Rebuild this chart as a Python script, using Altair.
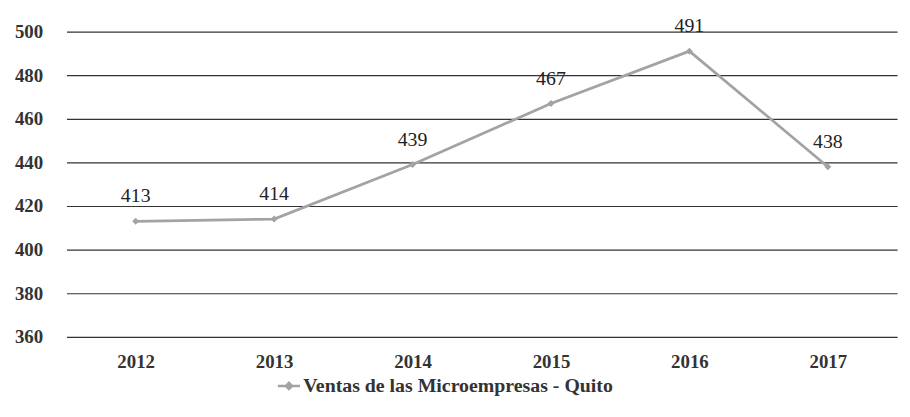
import altair as alt
import pandas as pd

years = ["2012", "2013", "2014", "2015", "2016", "2017"]
ventas = [413, 414, 439, 467, 491, 438]
serie = "Ventas de las Microempresas - Quito"

df = pd.DataFrame({"anio": years, "ventas": ventas, "serie": [serie] * len(years)})

GRAY = "#a3a3a3"
FONT = "Liberation Serif"

x = alt.X("anio:N", title=None, sort=years,
          scale=alt.Scale(paddingInner=0, paddingOuter=0.5),
          axis=alt.Axis(labelAngle=0, labelFont=FONT, labelFontWeight="bold",
                        labelFontSize=19, labelColor="#333333", labelPadding=16,
                        ticks=False, domain=False, grid=False))
y = alt.Y("ventas:Q", title=None,
          scale=alt.Scale(domain=[360, 500], nice=False, zero=False),
          axis=alt.Axis(values=[360, 380, 400, 420, 440, 460, 480, 500],
                        labelFont=FONT, labelFontWeight="bold", labelFontSize=19,
                        labelColor="#333333", labelPadding=24, ticks=False,
                        domain=False, grid=True, gridColor="#333333",
                        gridWidth=1.2))

color = alt.Color("serie:N", title=None,
                  scale=alt.Scale(range=[GRAY]),
                  legend=alt.Legend(orient="none", legendX=212, legendY=345,
                                    direction="horizontal",
                                    labelFont=FONT, labelFontWeight="bold",
                                    labelFontSize=20, labelColor="#333333",
                                    labelLimit=500,
                                    symbolType="M-1,0H1M0,-0.28L0.28,0L0,0.28L-0.28,0Z",
                                    symbolSize=500, symbolStrokeWidth=2.5,
                                    symbolStrokeColor=GRAY, symbolFillColor=GRAY,
                                    labelOffset=2, padding=0))

base = alt.Chart(df)
line = base.mark_line(strokeWidth=2.8).encode(x=x, y=y, color=color)
pts = base.mark_point(shape="diamond", filled=True, size=50, opacity=1).encode(
    x=x, y=y, color=alt.Color("serie:N", legend=None, scale=alt.Scale(range=[GRAY])))
txt = base.mark_text(dy=-19, baseline="alphabetic", font=FONT, fontSize=20,
                     color="#222222").encode(x=x, y=y, text="ventas:Q")

chart = (line + pts + txt).properties(
    width=838, height=308,
    autosize=alt.AutoSizeParams(type="none"),
    padding={"left": 59, "top": 22, "right": 5, "bottom": 70},
).configure_view(stroke=None)

chart.save("out.html", embed_options={"renderer": "svg", "actions": False})
